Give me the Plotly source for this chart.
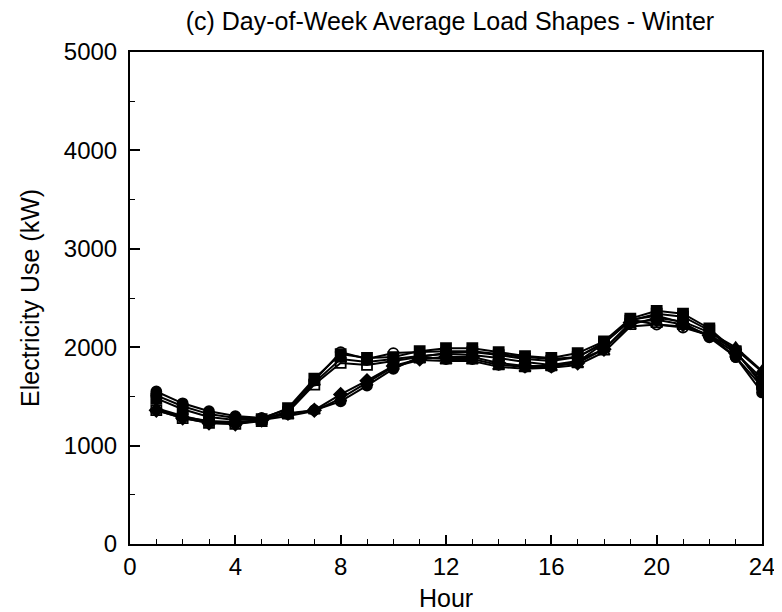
import plotly.graph_objects as go

# Hour of day, 1..24
hours = list(range(1, 25))

# Average winter load (kW) by day of week
sunday = [1550, 1430, 1350, 1300, 1280, 1320, 1360, 1450, 1610, 1780, 1900, 1880,
          1880, 1820, 1800, 1800, 1850, 2040, 2280, 2320, 2250, 2100, 1900, 1540]
monday = [1360, 1280, 1230, 1220, 1260, 1330, 1360, 1520, 1660, 1810, 1880, 1900,
          1900, 1840, 1810, 1810, 1840, 1980, 2250, 2280, 2230, 2120, 1940, 1680]
tuesday = [1480, 1370, 1290, 1260, 1270, 1380, 1680, 1930, 1890, 1900, 1960, 1990,
           1990, 1950, 1910, 1890, 1940, 2060, 2290, 2370, 2340, 2190, 1960, 1620]
wednesday = [1360, 1280, 1230, 1220, 1250, 1340, 1620, 1840, 1820, 1860, 1900, 1940,
             1950, 1920, 1880, 1860, 1900, 2040, 2270, 2340, 2310, 2170, 1950, 1640]
thursday = [1380, 1300, 1240, 1230, 1260, 1350, 1640, 1880, 1850, 1880, 1910, 1930,
            1920, 1890, 1850, 1820, 1860, 1980, 2230, 2300, 2260, 2150, 2000, 1760]
friday = [1510, 1400, 1320, 1280, 1280, 1370, 1660, 1950, 1880, 1940, 1950, 1960,
          1960, 1930, 1900, 1880, 1900, 2050, 2280, 2230, 2200, 2120, 1900, 1600]
saturday = [1370, 1290, 1250, 1240, 1260, 1300, 1350, 1480, 1640, 1800, 1870, 1860,
            1860, 1800, 1780, 1790, 1820, 1950, 2210, 2230, 2210, 2120, 1980, 1750]

day_names = ['Sunday', 'Monday', 'Tuesday', 'Wednesday', 'Thursday', 'Friday', 'Saturday']
day_values = [sunday, monday, tuesday, wednesday, thursday, friday, saturday]
day_symbols = ['circle', 'diamond', 'square', 'square-open', 'triangle-up',
               'circle-open', 'triangle-up-open']

FONT = 'Liberation Sans, Arial, Helvetica, sans-serif'

fig = go.Figure()

for name, vals, sym in zip(day_names, day_values, day_symbols):
    fig.add_trace(go.Scatter(
        x=hours,
        y=vals,
        mode='lines+markers',
        name=name,
        line=dict(color='black', width=2),
        marker=dict(symbol=sym, size=10, color='black',
                    line=dict(color='black', width=1.8)),
        showlegend=False,
    ))

# axis titles as annotations so the margins stay fixed
fig.add_annotation(text='Hour', x=0.5, y=0, xref='paper', yref='paper',
                   xanchor='center', yanchor='middle', yshift=-54, showarrow=False,
                   font=dict(family=FONT, size=25, color='black'))
fig.add_annotation(text='Electricity Use (kW)', x=0, y=0.5, xref='paper', yref='paper',
                   xanchor='center', yanchor='middle', xshift=-100, textangle=-90,
                   showarrow=False, font=dict(family=FONT, size=25, color='black'))

# page body has an 8px margin, so the figure is sized 8px smaller each way
fig.update_layout(
    width=774,
    height=604,
    paper_bgcolor='white',
    plot_bgcolor='white',
    margin=dict(l=122, r=20, t=44, b=68),
    font=dict(family=FONT, color='black', size=24),
    title=dict(
        text='(c) Day-of-Week Average Load Shapes - Winter',
        x=0.571, xanchor='center',
        y=0.978, yanchor='middle', yref='container',
        font=dict(family=FONT, size=25, color='black'),
    ),
    xaxis=dict(
        range=[0, 24],
        tickvals=[0, 4, 8, 12, 16, 20, 24],
        ticks='inside', ticklen=9, tickwidth=1.5, tickcolor='black',
        minor=dict(dtick=1, ticks='inside', ticklen=5, tickwidth=1.2, tickcolor='black'),
        showline=True, linecolor='black', linewidth=2, mirror=True,
        showgrid=False, zeroline=False, automargin=False,
        tickfont=dict(family=FONT, size=24),
    ),
    yaxis=dict(
        range=[0, 5000],
        tickvals=[0, 1000, 2000, 3000, 4000, 5000],
        ticks='inside', ticklen=10, tickwidth=1.5, tickcolor='black',
        minor=dict(dtick=500, ticks='inside', ticklen=5, tickwidth=1.2, tickcolor='black'),
        showline=True, linecolor='black', linewidth=2, mirror=True,
        showgrid=False, zeroline=False, automargin=False,
        tickfont=dict(family=FONT, size=24),
        ticklabelstandoff=6,
    ),
)

fig.write_html('out.html')
